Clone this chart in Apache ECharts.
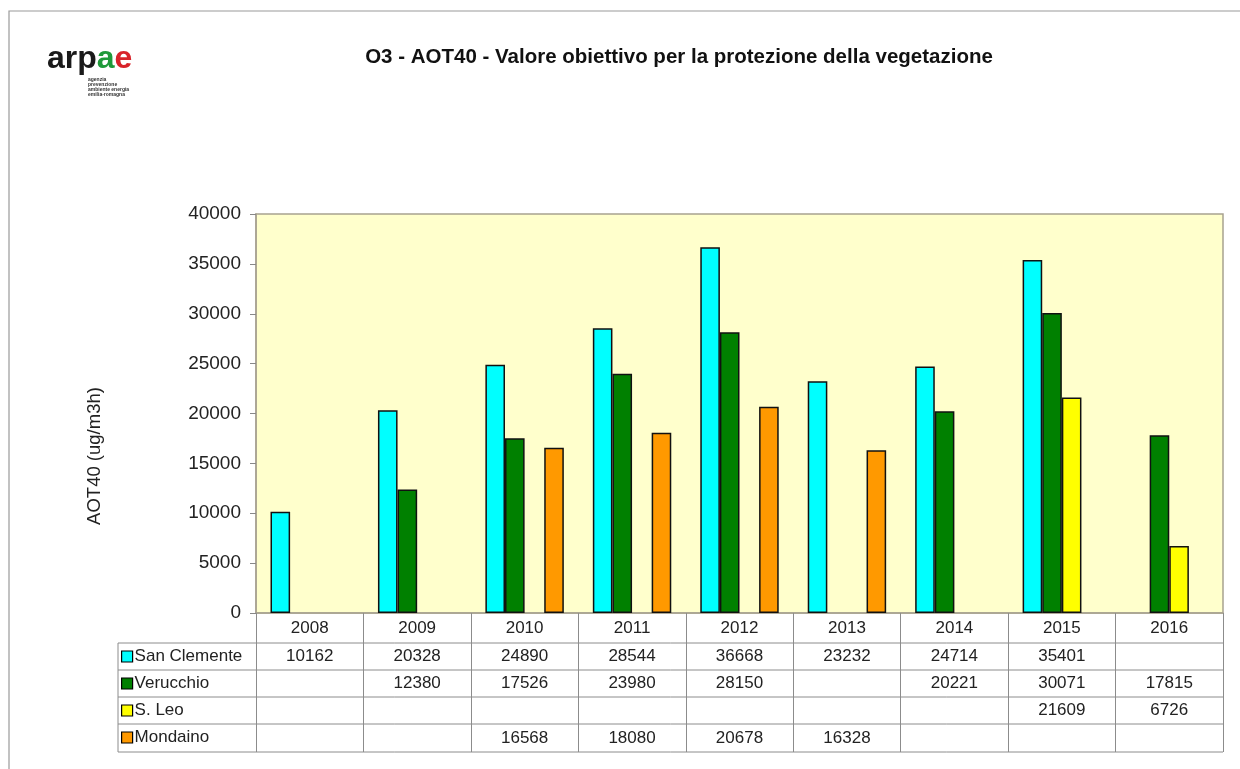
<!DOCTYPE html>
<html>
<head>
<meta charset="utf-8">
<script src="https://cdn.jsdelivr.net/npm/echarts@6/dist/echarts.min.js"></script>
<style>
  html, body { margin: 0; padding: 0; background: #fff; }
  #chart { width: 1240px; height: 769px; }
</style>
</head>
<body>
<div id="chart"></div>
<script>
  // dati
  const years = ['2008', '2009', '2010', '2011', '2012', '2013', '2014', '2015', '2016'];
  const sanClemente = [10162, 20328, 24890, 28544, 36668, 23232, 24714, 35401, null];
  const verucchio = [null, 12380, 17526, 23980, 28150, null, 20221, 30071, 17815];
  const sLeo = [null, null, null, null, null, null, null, 21609, 6726];
  const mondaino = [null, null, 16568, 18080, 20678, 16328, null, null, null];
  const yTicks = [0, 5000, 10000, 15000, 20000, 25000, 30000, 35000, 40000];

  const font = 'Liberation Sans, Arial, sans-serif';
  const rows = [
    { name: 'San Clemente', color: '#00FFFF', data: sanClemente },
    { name: 'Verucchio', color: '#008000', data: verucchio },
    { name: 'S. Leo', color: '#FFFF00', data: sLeo },
    { name: 'Mondaino', color: '#FF9900', data: mondaino }
  ];

  // tabella sotto il grafico
  const tableLeft = 118, tableRight = 1223, rowY = [643, 670, 697, 724, 752];
  const rowMargins = [43.5, 70.5, 97.5, 125];
  const tableLines = rowY.map(y => ({
    type: 'line',
    shape: { x1: tableLeft, y1: y, x2: tableRight, y2: y },
    style: { stroke: '#8c8c8c', lineWidth: 1 }
  }));
  tableLines.push({
    type: 'line',
    shape: { x1: tableLeft, y1: rowY[0], x2: tableLeft, y2: rowY[4] },
    style: { stroke: '#8c8c8c', lineWidth: 1 }
  });

  let myChart = echarts.init(document.getElementById('chart'));

  const xAxes = [{
    type: 'category',
    data: years,
    gridIndex: 0,
    position: 'bottom',
    axisLine: { lineStyle: { color: '#a8a290', width: 1.5 } },
    axisTick: { show: true, length: 139, lineStyle: { color: '#8c8c8c' } },
    axisLabel: { margin: 15, verticalAlign: 'middle', fontFamily: font, fontSize: 17, color: '#222' }
  }];
  rows.forEach((r, i) => {
    xAxes.push({
      type: 'category',
      data: years,
      gridIndex: 0,
      position: 'bottom',
      axisLine: { show: false },
      axisTick: { show: false },
      axisLabel: {
        margin: rowMargins[i],
        verticalAlign: 'middle',
        fontFamily: font,
        fontSize: 17,
        color: '#222',
        interval: 0,
        formatter: (v, idx) => r.data[idx] == null ? '' : String(r.data[idx])
      }
    });
  });

  myChart.setOption({
    animation: false,
    backgroundColor: '#fff',
    grid: {
      left: 256, top: 214, right: 17, bottom: 156,
      show: true,
      backgroundColor: '#FFFFCC',
      borderColor: '#a8a290',
      borderWidth: 1.5
    },
    legend: {
      orient: 'vertical',
      left: 121,
      top: 648,
      itemWidth: 11,
      itemHeight: 11,
      itemGap: 10,
      padding: 0,
      icon: 'rect',
      textStyle: { fontFamily: font, fontSize: 17, color: '#222', padding: [0, 0, 0, -3] },
      itemStyle: { borderColor: '#000', borderWidth: 1.2 },
      data: rows.map(r => r.name)
    },
    xAxis: xAxes,
    yAxis: {
      type: 'value',
      min: yTicks[0],
      max: yTicks[yTicks.length - 1],
      interval: 5000,
      axisLine: { show: true, lineStyle: { color: '#a8a290', width: 1.5 } },
      axisTick: { show: true, length: 6, lineStyle: { color: '#888' } },
      splitLine: { show: false },
      axisLabel: { margin: 15, fontFamily: font, fontSize: 19, color: '#222', formatter: v => String(v) }
    },
    series: rows.map(r => ({
      name: r.name,
      type: 'bar',
      data: r.data,
      barGap: '0%',
      barCategoryGap: '27%',
      itemStyle: { color: r.color, borderColor: '#111', borderWidth: 1.5 }
    })),
    graphic: [
      {
        type: 'rect',
        shape: { x: 9, y: 11, width: 1400, height: 900 },
        style: { fill: 'none', stroke: '#9a9a9a', lineWidth: 1.2 },
        silent: true
      },
      {
        type: 'text',
        x: 679,
        y: 57,
        style: {
          text: 'O3 - AOT40 - Valore obiettivo per la protezione della vegetazione',
          font: 'bold 20.5px ' + font,
          fill: '#111',
          align: 'center',
          verticalAlign: 'middle'
        }
      },
      {
        type: 'text',
        x: 95,
        y: 456,
        rotation: Math.PI / 2,
        style: {
          text: 'AOT40 (ug/m3h)',
          font: '18.5px ' + font,
          fill: '#222',
          align: 'center',
          verticalAlign: 'middle'
        }
      },
      // logo arpae
      {
        type: 'text',
        x: 47,
        y: 43,
        style: {
          text: '{k|arp}{g|a}{r|e}',
          rich: {
            k: { font: 'bold 32px ' + font, fill: '#1a1a1a' },
            g: { font: 'bold 32px ' + font, fill: '#1f9a3a' },
            r: { font: 'bold 32px ' + font, fill: '#d8232a' }
          }
        }
      },
      {
        type: 'text',
        x: 88,
        y: 77,
        style: {
          text: 'agenzia\nprevenzione\nambiente energia\nemilia-romagna',
          font: 'bold 5px ' + font,
          lineHeight: 5,
          fill: '#333'
        }
      }
    ].concat(tableLines)
  });
</script>
</body>
</html>
